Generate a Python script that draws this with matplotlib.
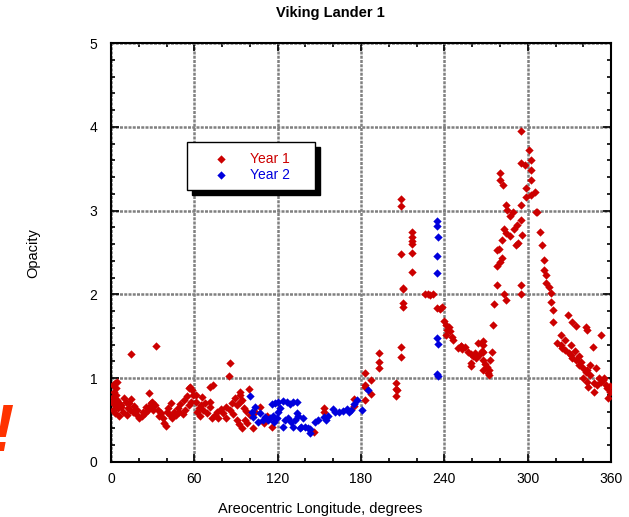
import matplotlib
matplotlib.use("Agg")
import matplotlib.pyplot as plt
from matplotlib.patches import Rectangle
from matplotlib.ticker import MultipleLocator

plt.rcParams['font.family'] = ['Liberation Sans', 'DejaVu Sans']

# Year 1 (red): areocentric longitude Ls and opacity
year1_ls = [
    1.4, 2.9, 3.6, 2.2, 1.4, 0.7, 2.9, 4.3, 1.4, 2.9, 5.0, 3.5, 4.0, 6.0, 7.2, 5.5,
    7.2, 9.4, 10.8, 12.2, 13.7, 15.8, 12.9, 14.4, 11.5, 14.4, 8.5, 16.5,
    18, 20, 22.3, 24.5, 26.6, 28, 29.5, 27.4, 28.7, 31.6, 33.7, 35.7, 32.5, 19, 23, 25.5, 30.5, 34.5,
    37.5, 39.7, 38, 40, 42.4, 44, 45.4, 41, 43,
    48, 50, 52.3, 54.4, 55.8, 57.2, 58.6, 59.3, 49, 53.3, 56.2, 51.5, 57.9, 47,
    61, 61.5, 63, 64.5, 66, 65.6, 62, 67.5, 64,
    71, 71, 69, 72.7, 75, 77, 80.5, 82.6, 85.4, 87.5, 87, 89, 90.5, 93, 94.5, 96, 97.5, 93,
    71, 73.6, 93, 99, 86, 85, 98, 102, 110, 116, 90.5, 92, 94.5, 96.5, 100, 79, 76, 83, 104, 107, 112,
    153, 153, 146, 175, 175,
    183, 183, 187.5, 183, 187.5, 183, 193, 193, 193, 205, 205.5, 206, 205, 208.5, 208.5,
    208.5, 208.5, 217, 217, 217, 217, 217, 217, 208.5, 210, 210, 210, 210,
    226, 228, 230, 232, 235, 237, 238.5, 239.5, 241, 242, 243.5, 241.5, 245.5, 246.5, 249.6,
    251.8, 253, 255, 257, 259, 260.5, 262.5, 259, 259, 252, 244,
    264, 268, 267.5, 262, 265, 267, 268, 274, 267.5, 269, 270.5, 272, 268, 271.5, 272, 273,
    275, 276, 278, 283, 295, 295,
    280.3, 280.3, 282.5, 284.7, 285.4, 287.5, 289.7, 283.2, 284.7, 287.5, 290.4, 292.6, 294.8,
    291.9, 293.3, 296.2, 295.5, 297.7, 299.1, 298.4, 294.8, 302, 300.6, 294.8, 302, 302.7, 302,
    304.9, 305.6, 278.2, 280.3, 281.8, 279.6, 281.8, 278.2, 284,
    307, 309, 310, 311.4, 312, 313.5, 313, 315, 316.4, 316.4, 318, 318.5, 329, 332, 334.4,
    341.6, 343, 352.4, 321.4, 323.6, 325, 327, 329.4, 330.8, 332, 334.4, 336.6, 338, 339.5,
    341.6, 343, 340, 343, 347.4, 350, 352.4, 354.5, 357.4, 359.5, 358, 343.7, 347.4, 345,
    349.5, 355, 347, 323.6, 327, 330.8, 334, 336.6, 345, 351, 356, 359.5,
]
year1_tau = [
    0.92, 0.94, 0.88, 0.84, 0.77, 0.72, 0.68, 0.74, 0.62, 0.58, 0.64, 0.80, 0.96, 0.70, 0.66, 0.55,
    0.68, 0.76, 0.72, 0.65, 0.62, 0.60, 0.70, 0.75, 0.56, 1.29, 0.60, 0.67,
    0.57, 0.52, 0.55, 0.59, 0.62, 0.67, 0.72, 0.82, 0.70, 0.68, 0.62, 0.58, 1.38, 0.62, 0.60, 0.66, 0.62, 0.55,
    0.52, 0.43, 0.47, 0.60, 0.56, 0.52, 0.60, 0.65, 0.70,
    0.64, 0.69, 0.74, 0.79, 0.88, 0.90, 0.86, 0.80, 0.60, 0.62, 0.68, 0.57, 0.72, 0.56,
    0.80, 0.72, 0.65, 0.68, 0.62, 0.78, 0.60, 0.70, 0.55,
    0.72, 0.66, 0.59, 0.52, 0.56, 0.52, 0.58, 0.52, 0.62, 0.57, 0.70, 0.76, 0.68, 0.72, 0.74, 0.64, 0.61, 0.80,
    0.90, 0.92, 0.84, 0.87, 1.18, 1.03, 0.47, 0.40, 0.47, 0.42, 0.50, 0.45, 0.41, 0.50, 0.56, 0.63, 0.60, 0.66, 0.60, 0.66, 0.55,
    0.64, 0.60, 0.36, 0.75, 0.67,
    1.06, 0.92, 0.98, 0.90, 0.81, 0.74, 1.12, 1.19, 1.30, 0.87, 0.94, 0.86, 0.79, 1.37, 1.25,
    3.14, 3.05, 2.74, 2.69, 2.64, 2.60, 2.49, 2.27, 2.48, 2.06, 1.90, 1.85, 2.08,
    2.00, 2.00, 1.99, 2.00, 1.84, 1.82, 1.85, 1.68, 1.63, 1.58, 1.61, 1.52, 1.49, 1.45, 1.36,
    1.38, 1.35, 1.37, 1.31, 1.29, 1.26, 1.24, 1.18, 1.15, 1.38, 1.56,
    1.42, 1.44, 1.40, 1.30, 1.28, 1.32, 1.31, 1.31, 1.22, 1.17, 1.13, 1.10, 1.10, 1.06, 1.04, 1.22,
    1.63, 1.89, 2.11, 2.00, 2.11, 2.00,
    3.45, 3.37, 3.31, 3.07, 3.01, 2.94, 2.98, 2.78, 2.73, 2.70, 2.78, 2.83, 2.89,
    2.59, 2.61, 2.71, 3.57, 3.54, 3.27, 3.16, 3.07, 3.19, 3.72, 3.95, 3.60, 3.48, 3.37,
    3.22, 2.98, 2.34, 2.39, 2.43, 2.54, 2.65, 2.53, 1.93,
    2.98, 2.74, 2.59, 2.41, 2.29, 2.23, 2.14, 2.09, 2.02, 1.91, 1.81, 1.67, 1.75, 1.67, 1.62,
    1.61, 1.58, 1.52, 1.42, 1.40, 1.36, 1.34, 1.30, 1.28, 1.24, 1.22, 1.16, 1.19, 1.12,
    1.07, 1.10, 1.00, 0.95, 0.94, 0.92, 0.95, 0.98, 0.88, 0.84, 0.76, 0.90, 0.84, 1.16,
    1.12, 1.00, 1.37, 1.52, 1.46, 1.40, 1.33, 1.26, 1.04, 1.00, 0.92, 0.91,
]

# Year 2 (blue)
year2_ls = [
    100, 104, 101.7, 102.4, 107.5, 109.6, 106, 111, 113, 114.5, 116.7, 116, 118, 120.5, 124,
    127, 129, 131, 122, 120.5, 119.6, 117.5, 125.5, 127.5, 129.8, 132.6, 134.8, 131, 124, 134,
    134, 136.2, 139.7, 141.8, 143.3, 143, 147, 149, 153, 154.5, 156, 159.5, 161.6, 164, 166.9,
    169.8, 171, 173, 175, 177, 181, 184.7, 138.5, 137,
    235, 235, 235.7, 235, 235, 235, 235.7, 235, 235.7,
]
year2_tau = [
    0.79, 0.66, 0.60, 0.54, 0.59, 0.50, 0.48, 0.54, 0.50, 0.52, 0.55, 0.69, 0.70, 0.72, 0.73,
    0.72, 0.69, 0.72, 0.64, 0.60, 0.52, 0.48, 0.50, 0.52, 0.48, 0.50, 0.55, 0.42, 0.42, 0.72,
    0.58, 0.41, 0.42, 0.41, 0.39, 0.35, 0.48, 0.50, 0.54, 0.50, 0.55, 0.63, 0.60, 0.60, 0.61,
    0.63, 0.60, 0.62, 0.69, 0.74, 0.62, 0.86, 0.52, 0.42,
    2.87, 2.82, 2.68, 2.46, 2.26, 1.48, 1.41, 1.05, 1.03,
]

red = '#cc0000'
blue = '#0000dd'

fig = plt.figure(figsize=(6.29, 5.17), dpi=100)
ax = fig.add_axes([0.1765, 0.1064, 0.795, 0.8104])

ax.scatter(year1_ls, year1_tau, marker='D', s=18, color=red, linewidths=0, zorder=3, label='Year 1')
ax.scatter(year2_ls, year2_tau, marker='D', s=18, color=blue, linewidths=0, zorder=3, label='Year 2')

ax.set_xlim(0, 360)
ax.set_ylim(0, 5)
ax.xaxis.set_major_locator(MultipleLocator(60))
ax.xaxis.set_minor_locator(MultipleLocator(20))
ax.yaxis.set_major_locator(MultipleLocator(1))
ax.yaxis.set_minor_locator(MultipleLocator(0.2))
ax.tick_params(which='both', direction='in', top=True, right=True, width=1.2, labelsize=10)
ax.tick_params(which='major', length=6)
ax.tick_params(which='minor', length=3)
ax.tick_params(axis='x', pad=7)
ax.tick_params(axis='y', pad=10)
for sp in ax.spines.values():
    sp.set_linewidth(1.5)
ax.grid(True, which='major', color='#808080', linewidth=1.8, linestyle=(0, (1.2, 0.5)), zorder=1)
ax.set_axisbelow(True)

# legend box with hard black shadow
bx, by, bw, bh = 0.152, 0.649, 0.256, 0.115
ax.add_patch(Rectangle((bx + 0.01, by - 0.012), bw, bh, transform=ax.transAxes,
                       facecolor='black', edgecolor='black', zorder=5))
ax.add_patch(Rectangle((bx, by), bw, bh, transform=ax.transAxes,
                       facecolor='white', edgecolor='black', linewidth=1, zorder=6))
leg = ax.legend(loc='upper left', bbox_to_anchor=(bx, by + bh), borderaxespad=0,
                frameon=False, fontsize=10, borderpad=0.7, handlelength=3.5,
                handletextpad=0.3, labelspacing=0.15, scatterpoints=1)
leg.set_zorder(7)
for t, c in zip(leg.get_texts(), [red, blue]):
    t.set_color(c)

fig.text(330 / 629, 1 - 13 / 517, 'Viking Lander 1', ha='center', va='center',
         fontsize=10.5, fontweight='bold')
fig.text(320 / 629, 1 - 509 / 517, 'Areocentric Longitude, degrees', ha='center',
         va='center', fontsize=10.5)
fig.text(33 / 629, 1 - 253 / 517, 'Opacity', ha='center', va='center',
         rotation=90, fontsize=10.5)
fig.text(3 / 629, 1 - 434 / 517, '!', ha='center', va='center', fontsize=48,
         fontweight='bold', fontstyle='italic', color='#ff3300')

fig.savefig('out.png', dpi=100)
